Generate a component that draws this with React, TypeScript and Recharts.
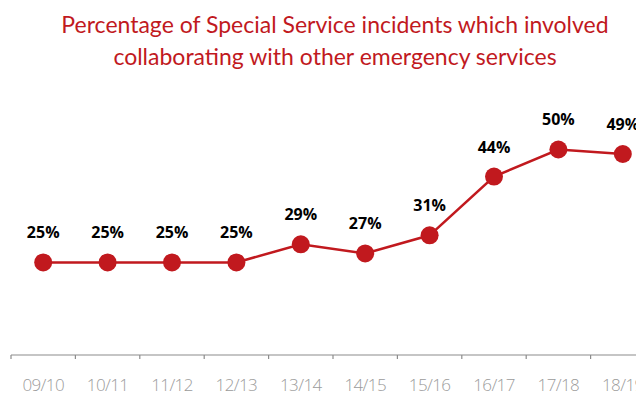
import React from "react";
import { LineChart, Line, XAxis, YAxis, LabelList } from "recharts";

const SEASONS = ["09/10", "10/11", "11/12", "12/13", "13/14", "14/15", "15/16", "16/17", "17/18", "18/19"];
const PERCENTAGES = [25, 25, 25, 25, 29, 27, 31, 44, 50, 49];

const RED = "#c1191e";
const BAND = 64.4; // width of one season on the x axis

const chartData = SEASONS.map((season, i) => ({ season, value: PERCENTAGES[i] }));

const SeasonTick = ({ x, y, payload }: any) => (
  <g>
    <line x1={x - BAND / 2} y1={y - 8} x2={x - BAND / 2} y2={y - 4} stroke="#8c8c8c" strokeWidth={1.2} />
    <text
      x={x}
      y={y + 28}
      textAnchor="middle"
      fill="#9b9b9b"
      fontSize={17}
      fontWeight={300}
      letterSpacing={-0.6}
      fontFamily="'Open Sans', sans-serif"
    >
      {payload.value}
    </text>
  </g>
);

const App = () => {
  return (
    <div style={{ position: "relative", width: 636, height: 388, overflow: "hidden" }}>
      <div
        style={{
          position: "absolute",
          left: 0,
          top: 0,
          width: 654,
          textAlign: "center",
          color: RED,
          fontFamily: "Lato, sans-serif",
          fontSize: 23,
          lineHeight: "32px",
        }}
      >
        Percentage of Special Service incidents which involved
        <br />
        collaborating with other emergency services
      </div>
      <LineChart
        width={660}
        height={388}
        data={chartData}
        margin={{ top: 76, right: 13, left: 3, bottom: 0 }}
      >
        <YAxis hide domain={[4.5, 64.5]} />
        <XAxis
          dataKey="season"
          axisLine={{ stroke: "#8c8c8c", strokeWidth: 1.2 }}
          tickLine={false}
          tick={<SeasonTick />}
          height={41}
          interval={0}
          padding={{ left: BAND / 2, right: BAND / 2 }}
        />
        <Line
          type="linear"
          dataKey="value"
          stroke={RED}
          strokeWidth={2.5}
          dot={{ r: 9, fill: RED, stroke: RED, strokeWidth: 0 }}
          activeDot={false}
          isAnimationActive={false}
        >
          <LabelList
            dataKey="value"
            position="top"
            offset={24}
            formatter={(v: any) => `${v}%`}
            fill="#000"
            fontSize={16}
            fontWeight={700}
            fontFamily="'Open Sans', sans-serif"
          />
        </Line>
      </LineChart>
    </div>
  );
};

export default App;
